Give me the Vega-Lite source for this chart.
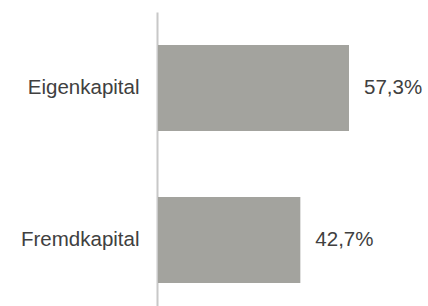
{
  "$schema": "https://vega.github.io/schema/vega-lite/v6.json",
  "width": 271,
  "height": 294,
  "padding": {"left": 157, "top": 12, "right": 0, "bottom": 0},
  "autosize": {"type": "none"},
  "background": "white",
  "data": {"values": [
    {"category": "Eigenkapital", "value": 57.3, "label": "57,3%"},
    {"category": "Fremdkapital", "value": 42.7, "label": "42,7%"}
  ]},
  "encoding": {
    "y": {
      "field": "category", "type": "nominal", "sort": null,
      "scale": {"paddingInner": 0.434, "paddingOuter": 0.184, "align": 0.59},
      "axis": {"title": null, "domain": true, "domainColor": "#c8c8c8", "domainWidth": 2, "ticks": false,
               "labelFont": "Liberation Sans", "labelFontSize": 20.5, "labelColor": "#404040", "labelPadding": 18}
    },
    "x": {
      "field": "value", "type": "quantitative",
      "scale": {"domain": [0, 81.3], "nice": false},
      "axis": null
    }
  },
  "layer": [
    {"mark": {"type": "bar", "color": "#a3a39e", "xOffset": 1}},
    {"mark": {"type": "text", "align": "left", "baseline": "middle", "dx": 16, "font": "Liberation Sans", "fontSize": 20.5, "color": "#404040"},
     "encoding": {"text": {"field": "label"}}}
  ],
  "config": {"view": {"stroke": null}}
}
